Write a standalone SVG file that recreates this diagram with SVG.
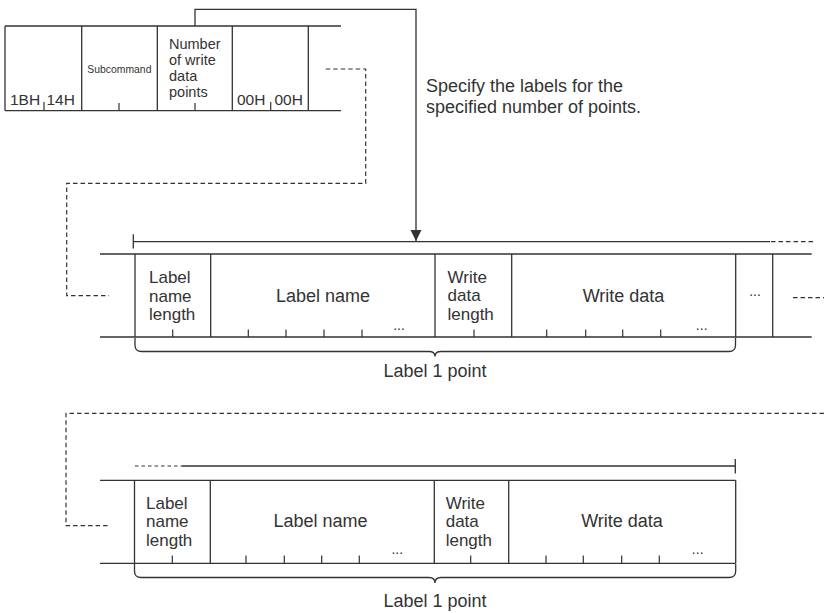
<svg xmlns="http://www.w3.org/2000/svg" width="824" height="613" viewBox="0 0 824 613">
<style>
.ln{stroke:#333;stroke-width:1.3;fill:none}
.tk{stroke:#333;stroke-width:1.2;fill:none}
.ds{stroke:#333;stroke-width:1.2;fill:none;stroke-dasharray:4.5,3}
.t{font-family:"Liberation Sans",Arial,sans-serif;fill:#333;font-size:18px}
.tm{font-family:"Liberation Sans",Arial,sans-serif;fill:#333;font-size:17px}
.ts{font-family:"Liberation Sans",Arial,sans-serif;fill:#333;font-size:15.5px}
.tn{font-family:"Liberation Sans",Arial,sans-serif;fill:#333;font-size:14.5px}
.tc{font-family:"Liberation Sans",Arial,sans-serif;fill:#333;font-size:14px;text-anchor:middle}
.mid{text-anchor:middle}
</style>
<defs>
<marker id="arr" markerUnits="userSpaceOnUse" markerWidth="11" markerHeight="12" refX="11" refY="5.5" orient="auto">
<path d="M0,0 L11,5.5 L0,11 z" fill="#333"/>
</marker>
</defs>
<rect width="824" height="613" fill="#fff"/>

<g id="request-frame">
<path class="ln" d="M5,26 H341 M5,110.7 H341 M5,26 V110.7 M81.7,26 V110.7 M157.3,26 V110.7 M232.3,26 V110.7 M308.3,26 V110.7"/>
<path class="tk" d="M44,102 V110.7 M119,103 V110.7 M195,103 V110.7 M270.7,102 V110.7"/>
<text class="ts" x="10" y="105">1BH</text>
<text class="ts" x="46.5" y="105">14H</text>
<text x="87.3" y="72.7" style="font-family:'Liberation Sans',Arial,sans-serif;font-size:10.4px;fill:#333">Subcommand</text>
<text class="tn" x="169" y="49"><tspan x="169">Number</tspan><tspan x="169" dy="16">of write</tspan><tspan x="169" dy="16">data</tspan><tspan x="169" dy="16">points</tspan></text>
<text class="ts" x="237" y="105">00H</text>
<text class="ts" x="274.5" y="105">00H</text>
</g>

<g id="note">
<text class="t" x="426" y="91.7">Specify the labels for the</text>
<text class="t" x="426" y="112.7">specified number of points.</text>
</g>

<g id="label-point-1">
<path class="ln" d="M100,254 H811.7 M100,337 H811.7 M135,254 V337 M210.7,254 V337 M435,254 V337 M511.7,254 V337 M735.7,254 V337 M772.7,254 V337"/>
<path class="tk" d="M172.7,329.5 V337 M248.3,329.5 V337 M286,329.5 V337 M324,329.5 V337 M362,329.5 V337 M474,329.5 V337 M546.7,329.5 V337 M585.7,329.5 V337 M622.7,329.5 V337 M660.7,329.5 V337"/>
<text class="tm" x="149"><tspan x="149" y="283">Label</tspan><tspan x="149" y="301.5">name</tspan><tspan x="149" y="320">length</tspan></text>
<text class="t mid" x="323" y="301.7">Label name</text>
<text class="tm" x="447.5"><tspan x="447.5" y="282.5">Write</tspan><tspan x="447.5" y="301">data</tspan><tspan x="447.5" y="319.5">length</tspan></text>
<text class="t mid" x="623.5" y="301.7">Write data</text>
<text class="tc" x="399" y="330">...</text>
<text class="tc" x="701.7" y="330">...</text>
<text class="tc" x="755" y="296">...</text>
<path class="ln" d="M133.3,241.7 H770 M133.3,234.3 V248.5"/>
<path class="ds" d="M771,241.7 H815"/>
<path class="ln" d="M135,338 L135,345 Q135,351.5 141.5,351.5 L429,351.5 Q435,351.5 435,356.5 Q435,351.5 441,351.5 L729,351.5 Q735.5,351.5 735.5,345 L735.5,338"/>
<text class="t mid" x="435" y="376.7">Label 1 point</text>
</g>

<g id="label-point-n">
<path class="ln" d="M100,480.3 H735.7 M100,563.3 H735.7 M134.5,480.3 V563.3 M210.3,480.3 V563.3 M434.3,480.3 V563.3 M508.7,480.3 V563.3 M735.7,480.3 V563.3"/>
<path class="tk" d="M172.3,555.5 V563.3 M246,555.5 V563.3 M284.3,555.5 V563.3 M321.7,555.5 V563.3 M359.3,555.5 V563.3 M470.7,555.5 V563.3 M546,555.5 V563.3 M583.3,555.5 V563.3 M621.7,555.5 V563.3 M659.3,555.5 V563.3"/>
<text class="tm" x="146"><tspan x="146" y="508.5">Label</tspan><tspan x="146" y="527">name</tspan><tspan x="146" y="545.5">length</tspan></text>
<text class="t mid" x="320.5" y="526.7">Label name</text>
<text class="tm" x="445.7"><tspan x="445.7" y="508.5">Write</tspan><tspan x="445.7" y="527">data</tspan><tspan x="445.7" y="545.5">length</tspan></text>
<text class="t mid" x="622" y="526.7">Write data</text>
<text class="tc" x="397.3" y="554">...</text>
<text class="tc" x="697.7" y="554">...</text>
<path class="ln" d="M181.7,466 H735.3 M735.3,459 V473.5"/>
<path class="tk" d="M135,466 H181.7" style="stroke-dasharray:3.5,3"/>
<path class="ln" d="M134.5,564 L134.5,571 Q134.5,577.5 141,577.5 L429,577.5 Q435,577.5 435,583 Q435,577.5 441,577.5 L729,577.5 Q735.7,577.5 735.7,571 L735.7,564"/>
<text class="t mid" x="435" y="607">Label 1 point</text>
</g>

<g id="connectors">
<path class="ln" d="M195,26 V9.3 H416 V241" marker-end="url(#arr)"/>
<path class="ds" d="M325.7,69 H365.7 V183.3 H66.7 V295.7 H109"/>
<path class="ds" d="M793,297.7 H824"/>
<path class="ds" d="M824,413.3 H66 V525.7 H109"/>
</g>
</svg>
